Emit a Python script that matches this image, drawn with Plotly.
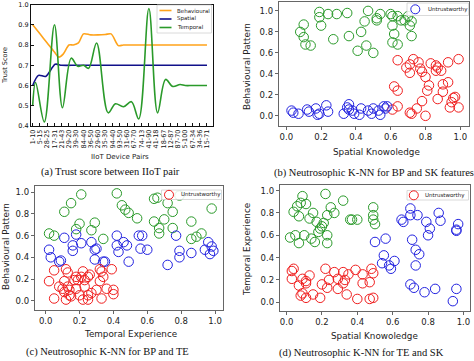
import plotly.graph_objects as go

W, H = 474, 361
def px(x): return x / W
def py(y): return 1 - y / H

# ---------------- Panel (a) data ----------------
pair_labels = ["1-10", "5-15", "28-25", "17-31", "21-43", "29-20", "39-30", "84-40",
               "36-50", "29-60", "35-30", "94-40", "93-50", "31-60", "67-70", "74-13",
               "41-90", "41-18", "18-67", "12-87", "87-70", "5-100", "67-34", "34-36", "15-71"]

beh_pos = [0, 1, 2, 3, 3.6, 4.2, 5, 5.6, 6.3, 7, 8, 9, 10, 10.8, 11.8, 12.5, 14, 16, 18, 20, 22, 24]
beh_val = [0.90, 0.855, 0.81, 0.765, 0.74, 0.755, 0.80, 0.80, 0.81, 0.855, 0.85, 0.85, 0.852, 0.855,
           0.797, 0.80, 0.80, 0.80, 0.80, 0.80, 0.80, 0.80]

spa_pos = [0, 0.8, 1.8, 3.1, 4, 6, 8, 10, 12, 14, 16, 18, 20, 22, 24]
spa_val = [0.60, 0.65, 0.645, 0.705, 0.70, 0.70, 0.70, 0.70, 0.70, 0.70, 0.70, 0.70, 0.70, 0.70, 0.70]

tem_pos = [0, 0.4, 1.6, 3.0, 4.1, 5.3, 6.2, 7.0, 7.7, 8.8, 10.4, 11.4, 12.5, 13.6, 14.6, 16.0,
           17.2, 18.3, 19.3, 20.3, 21, 22, 23, 24]
tem_val = [0.50, 0.615, 0.42, 0.90, 0.49, 0.735, 0.695, 0.70, 0.685, 0.81, 0.465, 0.51, 0.495,
           0.52, 0.435, 0.98, 0.465, 0.63, 0.595, 0.605, 0.60, 0.60, 0.60, 0.60]

# ---------------- Panel (b) data: Spatial Knowledge vs Behavioural Pattern ----------------
b_green_x = [0.08,0.10,0.10,0.11,0.14,0.19,0.19,0.20,0.24,0.27,0.29,0.35,0.36,0.43,0.45,0.47,0.41,0.46,
             0.50,0.52,0.52,0.54,0.60,0.61,0.64,0.61,0.62,0.61,0.64,0.66,0.70,0.68,0.72,0.71,0.72]
b_green_y = [0.80,0.87,0.75,0.68,0.67,0.99,0.94,0.86,0.97,0.73,0.97,0.98,0.76,0.80,0.90,1.00,0.62,0.67,
             0.60,0.91,0.93,0.97,0.97,0.95,0.95,0.86,0.78,0.70,0.68,0.91,0.95,0.91,0.90,0.86,0.76]
b_red_x = [0.64,0.62,0.64,0.64,0.61,0.69,0.71,0.71,0.73,0.76,0.77,0.78,0.80,0.83,0.86,0.87,0.86,0.93,
           0.99,0.82,0.81,0.90,0.93,0.90,0.97,0.96,0.95,0.87,0.78,0.71,0.72,0.75,0.80,0.94,0.99,0.89]
b_red_y = [0.53,0.28,0.24,0.09,0.06,0.46,0.49,0.41,0.54,0.51,0.45,0.42,0.37,0.50,0.48,0.46,0.43,0.51,
           0.54,0.29,0.24,0.30,0.32,0.23,0.18,0.17,0.13,0.16,0.14,0.03,0.02,0.07,0.00,0.08,0.08,0.43]
b_blue_x = [0.04,0.03,0.07,0.12,0.13,0.17,0.18,0.19,0.23,0.24,0.33,0.35,0.36,0.38,0.39,0.42,0.43,
            0.47,0.49,0.50,0.53,0.54,0.56,0.57,0.58,0.36]
b_blue_y = [0.03,0.05,0.02,0.06,0.04,0.07,0.01,0.02,0.10,0.04,0.02,0.08,0.11,0.05,0.02,0.01,0.07,
            0.05,0.02,0.07,0.05,0.01,0.09,0.07,0.09,0.06]

# ---------------- Panel (c) data: Temporal Experience vs Behavioural Pattern ----------------
c_green_x = [0.02,0.05,0.11,0.15,0.21,0.20,0.18,0.27,0.29,0.34,0.42,0.45,0.47,0.49,0.54,0.64,0.64,
             0.66,0.67,0.67,0.70,0.72,0.75,0.75,0.79,0.86,0.86,0.89,0.92,0.98]
c_green_y = [0.62,0.60,0.82,0.90,0.98,0.71,0.66,0.65,0.72,0.57,0.99,0.88,0.84,0.81,0.76,0.73,0.94,
             0.95,0.67,0.62,0.75,0.90,0.82,0.67,0.97,0.73,0.57,0.59,0.62,0.85]
c_blue_x = [0.02,0.03,0.08,0.09,0.11,0.16,0.16,0.18,0.21,0.27,0.29,0.30,0.29,0.34,0.35,0.42,0.42,
            0.43,0.46,0.48,0.49,0.55,0.57,0.56,0.60,0.72,0.77,0.79,0.79,0.86,0.94,0.96,0.97,0.98,0.99]
c_blue_y = [0.47,0.40,0.36,0.37,0.58,0.51,0.46,0.61,0.53,0.54,0.47,0.48,0.38,0.36,0.36,0.60,0.51,
            0.45,0.54,0.51,0.36,0.60,0.60,0.48,0.47,0.33,0.60,0.46,0.40,0.44,0.47,0.54,0.43,0.50,0.46]
c_red_x = [0.02,0.05,0.05,0.08,0.10,0.11,0.12,0.13,0.11,0.12,0.14,0.15,0.13,0.14,0.17,0.18,0.19,
           0.21,0.22,0.23,0.25,0.26,0.18,0.20,0.23,0.25,0.25,0.27,0.30,0.32,0.32,0.33,0.34,0.36,
           0.33,0.39,0.40,0.40,0.22]
c_red_y = [0.18,0.28,0.02,0.13,0.11,0.08,0.29,0.26,0.18,0.01,0.05,0.04,0.13,0.10,0.19,0.22,0.19,
           0.22,0.27,0.19,0.22,0.24,0.11,0.05,0.13,0.05,0.01,0.07,0.10,0.18,0.29,0.27,0.22,0.11,
           0.02,0.29,0.10,0.06,0.01]

# ---------------- Panel (d) data: Spatial Knowledge vs Temporal Experience ----------------
d_green_x = [0.02,0.05,0.04,0.06,0.08,0.09,0.11,0.07,0.07,0.10,0.13,0.15,0.14,0.16,0.17,0.18,0.19,
             0.20,0.21,0.22,0.23,0.25,0.27,0.23,0.23,0.32,0.36,0.37,0.40,0.49,0.49,0.49,0.50]
d_green_y = [0.58,0.60,0.81,0.86,0.89,0.95,0.88,0.77,0.53,0.60,0.75,0.80,0.57,0.54,0.72,0.63,0.66,
             0.68,0.71,0.97,0.78,0.85,0.80,0.60,0.53,0.91,0.74,0.74,0.74,0.74,0.85,0.78,0.70]
d_blue_x = [0.50,0.56,0.54,0.55,0.58,0.59,0.61,0.97,0.96,0.96,0.86,0.87,0.81,0.79,0.80,0.74,0.70,
            0.70,0.65,0.66,0.71,0.73,0.75,0.73,0.70,0.72,0.78,0.84,0.94,0.96]
d_blue_y = [0.54,0.57,0.35,0.42,0.33,0.30,0.37,0.70,0.65,0.64,0.80,0.73,0.66,0.72,0.60,0.78,0.84,
            0.78,0.74,0.72,0.56,0.47,0.43,0.33,0.16,0.13,0.09,0.12,0.01,0.12]
d_red_x = [0.03,0.04,0.03,0.07,0.09,0.11,0.11,0.13,0.09,0.08,0.11,0.15,0.19,0.20,0.22,0.23,0.24,
           0.27,0.29,0.29,0.32,0.33,0.32,0.34,0.35,0.39,0.40,0.43,0.43,0.47,0.49,0.48,0.49,0.47]
d_red_y = [0.28,0.30,0.21,0.15,0.21,0.19,0.17,0.24,0.08,0.06,0.04,0.07,0.04,0.16,0.30,0.13,0.20,
           0.27,0.12,0.21,0.27,0.20,0.17,0.07,0.25,0.29,0.03,0.25,0.17,0.03,0.04,0.30,0.26,0.18]

GREEN = "#2a9a2a"
RED = "#f01e1e"
BLUE = "#2222e0"
ORANGE = "#ffa31a"
NAVY = "#10108a"
SANS = "DejaVu Sans"
SERIF = "Liberation Serif"

fig = go.Figure()

# Panel (a) lines
fig.add_trace(go.Scatter(x=beh_pos, y=beh_val, mode="lines", name="Behavioural", showlegend=False,
                         line=dict(color=ORANGE, width=1.6, shape="spline", smoothing=0.8),
                         xaxis="x", yaxis="y"))
fig.add_trace(go.Scatter(x=spa_pos, y=spa_val, mode="lines", name="Spatial", showlegend=False,
                         line=dict(color=NAVY, width=1.6, shape="spline", smoothing=0.8),
                         xaxis="x", yaxis="y"))
fig.add_trace(go.Scatter(x=tem_pos, y=tem_val, mode="lines", name="Temporal", showlegend=False,
                         line=dict(color=GREEN, width=1.6, shape="spline", smoothing=1.0),
                         xaxis="x", yaxis="y"))

def scat(x, y, color, ax):
    fig.add_trace(go.Scatter(
        x=x, y=y, mode="markers", name="Untrustworthy", showlegend=False,
        marker=dict(symbol="circle-open", size=9.5, color=color, line=dict(width=1, color=color)),
        xaxis="x" + ax, yaxis="y" + ax))

scat(b_green_x, b_green_y, GREEN, "2")
scat(b_red_x, b_red_y, RED, "2")
scat(b_blue_x, b_blue_y, BLUE, "2")
scat(c_green_x, c_green_y, GREEN, "3")
scat(c_blue_x, c_blue_y, BLUE, "3")
scat(c_red_x, c_red_y, RED, "3")
scat(d_green_x, d_green_y, GREEN, "4")
scat(d_blue_x, d_blue_y, BLUE, "4")
scat(d_red_x, d_red_y, RED, "4")

tickfont_small = dict(family=SANS, size=6.5, color="#111")
tickfont = dict(family=SANS, size=8.5, color="#222")

def sc_axes(xdom, ydom, xr, yr, anchor_x, anchor_y):
    common = dict(showline=True, mirror=True, linecolor="#666", linewidth=1.3, ticks="outside",
                  ticklen=3, tickcolor="#666", tickvals=[0, 0.2, 0.4, 0.6, 0.8, 1.0],
                  tickformat=".1f", tickfont=tickfont, showgrid=False, zeroline=False,
                  automargin=False)
    xa = dict(domain=xdom, range=xr, anchor=anchor_y, **common)
    ya = dict(domain=ydom, range=yr, anchor=anchor_x, **common)
    return xa, ya

xa2, ya2 = sc_axes([px(279), px(469)], [py(126), py(2)], [-0.042, 1.05], [-0.097, 1.085], "x2", "y2")
xa3, ya3 = sc_axes([px(35), px(223)], [py(310), py(186)], [-0.063, 1.047], [-0.086, 1.058], "x3", "y3")
xa4, ya4 = sc_axes([px(280), px(470)], [py(311), py(185)], [-0.037, 1.037], [-0.078, 1.05], "x4", "y4")

fig.update_layout(
    template="none",
    width=W, height=H, autosize=False,
    margin=dict(l=0, r=0, t=0, b=0, autoexpand=False),
    paper_bgcolor="white", plot_bgcolor="white",
    showlegend=False,
    xaxis=dict(domain=[px(31), px(213)], range=[-0.23, 24.83], anchor="y",
               tickvals=list(range(len(pair_labels))), ticktext=pair_labels, tickangle=-90,
               ticks="inside", ticklen=3, tickcolor="#111", tickfont=tickfont_small,
               showline=True, mirror=True, linecolor="#111", linewidth=1,
               showgrid=False, zeroline=False, automargin=False),
    yaxis=dict(domain=[py(126), py(4.5)], range=[0.4, 1.0], anchor="x",
               tickvals=[0.4, 0.5, 0.6, 0.7, 0.8, 0.9, 1.0], tickformat=".1f",
               ticks="inside", ticklen=3, tickcolor="#111", tickfont=tickfont_small,
               showline=True, mirror=True, linecolor="#111", linewidth=1,
               showgrid=False, zeroline=False, automargin=False),
    xaxis2=xa2, yaxis2=ya2, xaxis3=xa3, yaxis3=ya3, xaxis4=xa4, yaxis4=ya4,
)

def ann(text, x, y, size, family=SANS, angle=0, color="#222", xanchor="center"):
    fig.add_annotation(text=text, x=px(x), y=py(y), xref="paper", yref="paper",
                       showarrow=False, textangle=angle, xanchor=xanchor, yanchor="middle",
                       font=dict(family=family, size=size, color=color))

# ---- legends (decoration) ----
def legend_box(x0, y0, x1, y1):
    fig.add_shape(type="rect", xref="paper", yref="paper", x0=px(x0), x1=px(x1), y0=py(y1), y1=py(y0),
                  fillcolor="rgba(255,255,255,0.85)", line=dict(color="#d0d0d0", width=0.8), layer="above")

def legend_line(y, color, label, x0=159.5, x1=171.5, tx=175):
    fig.add_shape(type="line", xref="paper", yref="paper", x0=px(x0), x1=px(x1), y0=py(y), y1=py(y),
                  line=dict(color=color, width=1.6), layer="above")
    ann(label, tx, y, 5.5, xanchor="left")

def legend_circle(cx, cy, color, label, tx):
    r = 4.5
    fig.add_shape(type="circle", xref="paper", yref="paper", x0=px(cx - r), x1=px(cx + r),
                  y0=py(cy + r), y1=py(cy - r), line=dict(color=color, width=1), layer="above")
    ann(label, tx, cy, 5.5, xanchor="left")

legend_box(157, 5, 211.5, 33)
legend_line(10.5, ORANGE, "Behavioural")
legend_line(19, NAVY, "Spatial")
legend_line(27.5, GREEN, "Temporal")

legend_box(407, 3, 468.5, 15.5)
legend_circle(415.3, 9.3, BLUE, "Untrustworthy", 425.5)
legend_box(161.5, 190, 221.5, 199.5)
legend_circle(169, 194.8, RED, "Untrustworthy", 178.5)
legend_box(407, 190.5, 468.5, 200)
legend_circle(413.8, 195.3, RED, "Untrustworthy", 423)

# Axis titles
ann("Trust Score", 5, 66, 6.5, angle=-90)
ann("IIoT Device Pairs", 120, 157, 7)
ann("Behavioural Pattern", 247, 66, 8.8, angle=-90)
ann("Spatial Knowoledge", 376, 152, 8.8)
ann("Behavioural Pattern", 6, 247, 8.8, angle=-90)
ann("Temporal Experience", 130, 334, 8.8)
ann("Temporal Experience", 247, 249, 8.8, angle=-90)
ann("Spatial Knowoledge", 374.5, 336, 8.8)

# Captions
ann("(a) Trust score between IIoT pair", 110, 172, 10.5, family=SERIF, color="#111")
ann("(b) Neutrosophic K-NN for BP and SK features", 373.5, 173, 10.5, family=SERIF, color="#111")
ann("(c) Neutrosophic K-NN for BP and TE", 107, 352, 10.5, family=SERIF, color="#111")
ann("(d) Neutrosophic K-NN for TE and SK", 361, 353, 10.5, family=SERIF, color="#111")

fig.write_html("out.html", config={"displayModeBar": False},
               post_script="document.body.style.margin='0px';document.body.style.overflow='hidden';")
